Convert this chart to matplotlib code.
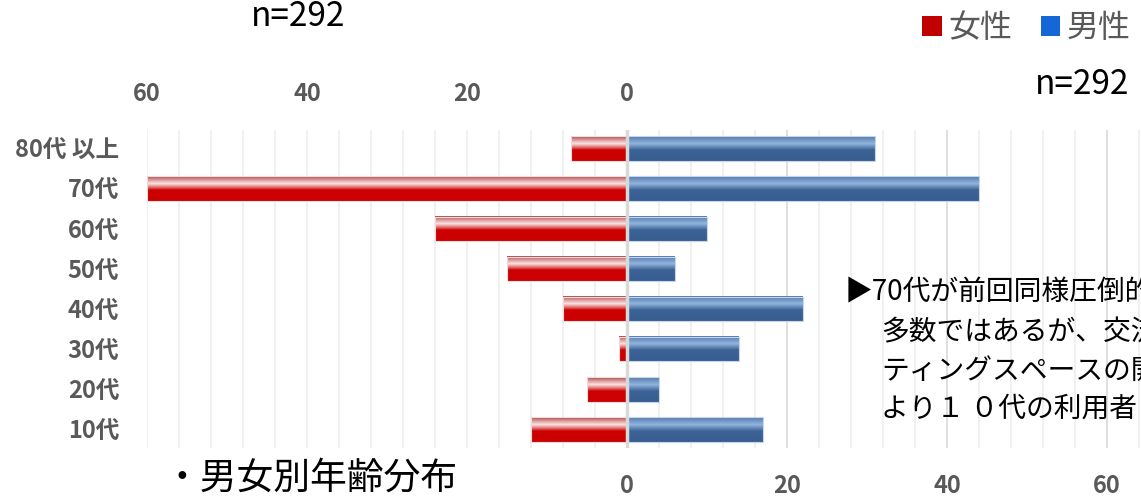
import matplotlib
matplotlib.use("Agg")
import matplotlib.pyplot as plt
from matplotlib.patches import Patch
from matplotlib.ticker import FuncFormatter, MultipleLocator
import numpy as np

plt.rcParams['font.family'] = ['Noto Sans CJK JP', 'DejaVu Sans']

# 年代別人数（女性は左、男性は右）
ages = ['80代 以上', '70代', '60代', '50代', '40代', '30代', '20代', '10代']
female = [7, 60, 24, 15, 8, 1, 5, 12]
male = [31, 44, 10, 6, 22, 14, 4, 17]
n_total = 292

note_lines = ['▶70代が前回同様圧倒的',
              '多数ではあるが、交流',
              'ティングスペースの開放',
              'より１ ０代の利用者']

gray = '#595959'
W, H = 1141, 497


def gradient(stops, n=64):
    pos = [s[0] for s in stops]
    t = np.linspace(0, 1, n)
    rgb = np.stack([np.interp(t, pos, [s[1][k] for s in stops]) for k in range(3)], axis=1)
    return rgb[:, None, :]


red_grad = gradient([(0.0, (0.64, 0.30, 0.30)), (0.14, (0.86, 0.58, 0.58)),
                     (0.30, (0.98, 0.89, 0.89)), (0.45, (0.88, 0.42, 0.42)),
                     (0.56, (0.80, 0.0, 0.0)), (1.0, (0.80, 0.0, 0.0))])
blue_grad = gradient([(0.0, (0.33, 0.48, 0.68)), (0.30, (0.57, 0.71, 0.87)),
                      (0.56, (0.24, 0.39, 0.59)), (1.0, (0.22, 0.37, 0.57))])

fig = plt.figure(figsize=(W / 100, H / 100), dpi=100)
ax = fig.add_axes([147 / W, 1 - 448 / H, (W - 147) / W, 318 / H])

y = np.arange(len(ages))
bh = 0.62
fb = ax.barh(y, [-v for v in female], height=bh, color='none',
             edgecolor='#f3dada', linewidth=0.8, zorder=3)
mb = ax.barh(y, male, height=bh, color='none',
             edgecolor='#c6d6ea', linewidth=0.8, zorder=3)

# 棒の中を縦方向のグラデーションで塗る
for bars, grad in ((fb, red_grad), (mb, blue_grad)):
    for p in bars:
        x0 = p.get_x()
        x1 = x0 + p.get_width()
        yc = p.get_y() + bh / 2
        ax.imshow(grad, extent=(min(x0, x1), max(x0, x1), yc + bh / 2, yc - bh / 2),
                  origin='upper', aspect='auto', interpolation='bilinear', zorder=2)

xmax = (W - 627) / 8
ax.set_xlim(-60, xmax)
ax.set_ylim(7.47, -0.47)

# 縦の目盛線
ax.xaxis.set_minor_locator(MultipleLocator(4))
ax.grid(axis='x', which='minor', color='#eeeeee', linewidth=1.2, zorder=0)
ax.grid(axis='x', which='major', color='#d9d9d9', linewidth=1.2, zorder=0)
ax.axvline(0, color='#d9d9d9', linewidth=2.5, zorder=4)

for s in ax.spines.values():
    s.set_visible(False)

ax.set_yticks(y)
ax.set_yticklabels(ages, fontsize=17, fontweight='bold', color=gray)
ax.tick_params(axis='y', length=0, pad=20)

ax.set_xticks([0, 20, 40, 60])
ax.tick_params(axis='x', which='both', length=0, pad=19, labelsize=17, labelcolor=gray)
for lbl in ax.get_xticklabels():
    lbl.set_fontweight('bold')

top = ax.secondary_xaxis('top')
top.set_xticks([-60, -40, -20, 0])
top.xaxis.set_major_formatter(FuncFormatter(lambda v, _: f'{abs(v):.0f}'))
top.tick_params(length=0, pad=17, labelsize=17, labelcolor=gray)
for lbl in top.get_xticklabels():
    lbl.set_fontweight('bold')
top.spines['top'].set_visible(False)

fig.text(298 / W, 1 - 17 / H, f'n={n_total}', fontsize=24, ha='center', va='center')
fig.text(1129 / W, 1 - 85 / H, f'n={n_total}', fontsize=24, ha='right', va='center')
fig.text(163 / W, 1 - 478 / H, '・男女別年齢分布', fontsize=26.5, ha='left', va='center')

ys = [292, 332, 371, 409]
for i, line in enumerate(note_lines):
    x = 845 if i == 0 else 881
    fig.text(x / W, 1 - ys[i] / H, line, fontsize=20, ha='left', va='center')

handles = [Patch(facecolor='#c00000', edgecolor='none', label='女性'),
           Patch(facecolor='#1566d6', edgecolor='none', label='男性')]
leg = fig.legend(handles=handles, loc='center right', bbox_to_anchor=(1143 / W, 1 - 28 / H),
                 ncol=2, frameon=False, fontsize=23, handlelength=0.6, handleheight=0.6,
                 handletextpad=0.2, columnspacing=0.9, borderaxespad=0)
for t in leg.get_texts():
    t.set_color(gray)

fig.savefig('out.png', dpi=100)
